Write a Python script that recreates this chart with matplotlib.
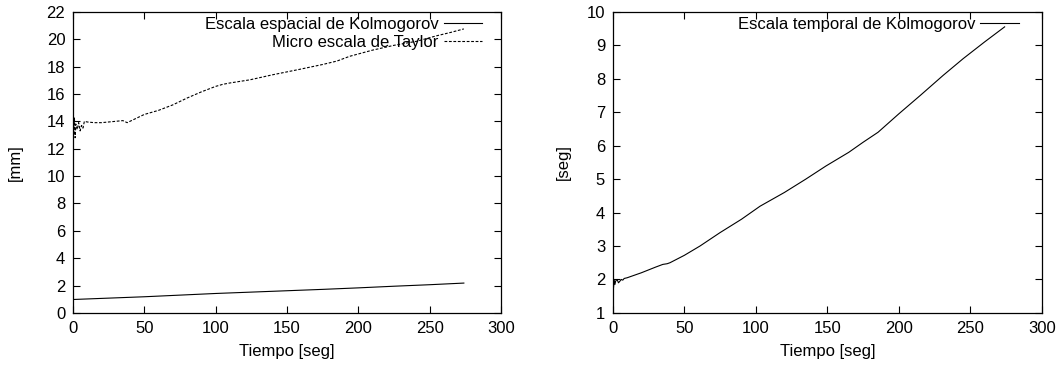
import numpy as np
import matplotlib.pyplot as plt

plt.rcParams['font.family'] = ['Liberation Sans', 'DejaVu Sans']
plt.rcParams['font.size'] = 12

# Escala espacial de Kolmogorov [mm]
t_eta = [0, 25, 50, 75, 100, 125, 150, 175, 200, 225, 250, 274]
eta = [0.98, 1.08, 1.18, 1.30, 1.42, 1.52, 1.62, 1.72, 1.83, 1.95, 2.06, 2.18]

# Micro escala de Taylor [mm]
t_lam = [0, 0.5, 1, 1.5, 2, 3, 4, 5, 6, 7, 8, 10, 15, 20, 25, 30, 35, 38, 40,
         45, 50, 60, 70, 80, 90, 100, 105, 110, 124, 140, 159, 175, 185, 194,
         210, 225, 241, 255, 265, 274]
lam = [14.2, 13.0, 14.3, 12.8, 13.8, 13.4, 13.9, 13.3, 13.7, 13.5, 14.0, 13.95,
       13.9, 13.9, 13.95, 14.0, 14.05, 13.9, 14.0, 14.25, 14.5, 14.8, 15.2,
       15.7, 16.15, 16.55, 16.7, 16.8, 17.03, 17.4, 17.8, 18.15, 18.4, 18.75,
       19.2, 19.55, 19.85, 20.25, 20.5, 20.75]

# Escala temporal de Kolmogorov [seg]
t_tau = [0, 0.5, 1, 1.5, 2, 3, 4, 5, 6, 7, 8, 10, 20, 30, 35, 38, 40, 50, 61,
         75, 90, 103, 120, 135, 149, 165, 175, 185.5, 200, 215, 231, 245, 260,
         274]
tau = [1.95, 1.75, 1.98, 1.85, 1.95, 2.0, 1.9, 1.95, 2.0, 1.98, 2.03, 2.05,
       2.2, 2.37, 2.45, 2.47, 2.5, 2.72, 3.0, 3.4, 3.8, 4.19, 4.6, 5.0, 5.39,
       5.8, 6.1, 6.4, 6.95, 7.5, 8.1, 8.6, 9.1, 9.55]

fig = plt.figure(figsize=(10.62, 3.69), dpi=100)
ax1 = fig.add_axes([0.0687, 0.152, 0.403, 0.816])
ax2 = fig.add_axes([0.577, 0.152, 0.404, 0.816])

ax1.plot(t_eta, eta, color='black', lw=0.8, label='Escala espacial de Kolmogorov')
ax1.plot(t_lam, lam, color='black', lw=0.8, dashes=(2.5, 1.5),
         label='Micro escala de Taylor')
ax1.set_xlim(0, 300)
ax1.set_ylim(0, 22)
ax1.set_yticks(np.arange(0, 23, 2))
ax1.set_ylabel('[mm]', labelpad=17)

ax2.plot(t_tau, tau, color='black', lw=0.8, label='Escala temporal de Kolmogorov')
ax2.set_xlim(0, 300)
ax2.set_ylim(1, 10)
ax2.set_yticks(np.arange(1, 11, 1))
ax2.set_ylabel('[seg]', labelpad=11)

for ax, gap in ((ax1, 19), (ax2, 23)):
    ax.set_xticks(np.arange(0, 301, 50))
    ax.set_xlabel('Tiempo [seg]', labelpad=6)
    ax.tick_params(direction='in', top=True, right=True, length=5, width=0.8,
                   pad=5.5)
    for s in ax.spines.values():
        s.set_linewidth(0.9)
    ax.legend(loc='upper right', frameon=False, markerfirst=False,
              bbox_to_anchor=(1 - gap / 428, 1 - 5 / 301),
              handlelength=2.3, handletextpad=0.3, labelspacing=0.2,
              borderaxespad=0, borderpad=0)

fig.savefig('out.png', dpi=100)
